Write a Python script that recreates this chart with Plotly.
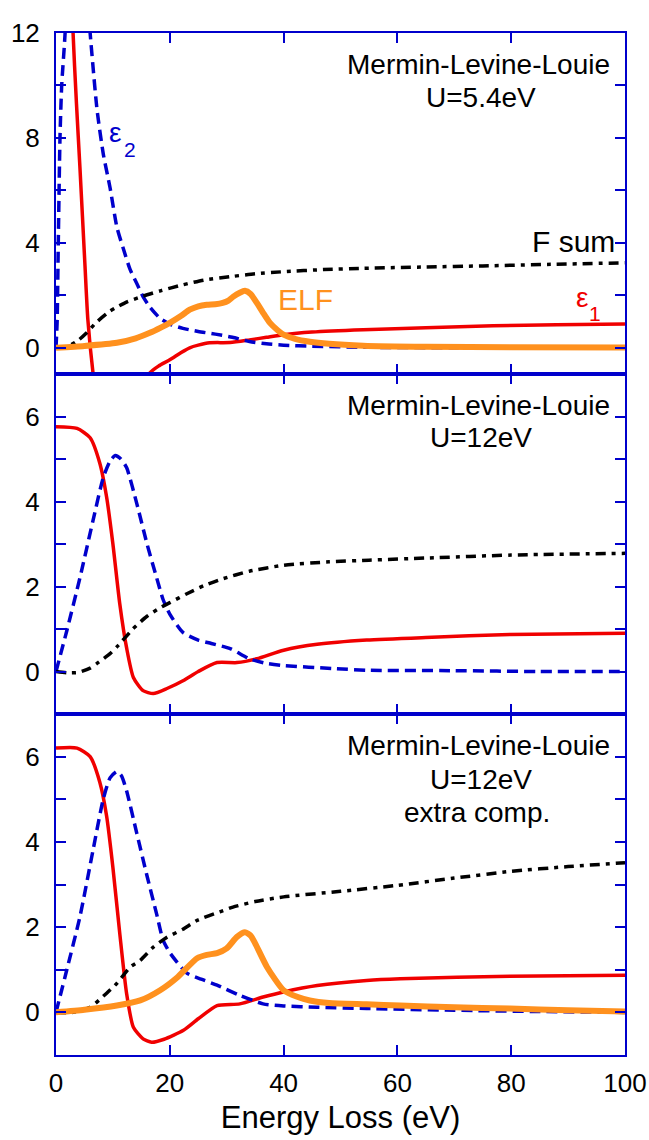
import plotly.graph_objects as go
from plotly.subplots import make_subplots

# ---------------- U = 5.4 eV ----------------
e_eps1_a = [0, 1, 2, 3, 3.6, 4.2, 5.1, 5.6, 6.5, 7.5, 9, 11, 13, 15, 16.5, 18, 20, 22, 23.5, 25, 27, 30.6, 34, 37, 40, 45, 54, 65, 76.8, 88, 100]
eps1_a = [40, 32, 20, 12, 9.3, 6.9, 3.1, 1.07, -0.95, -2.5, -3.4, -3.3, -2.5, -1.6, -0.96, -0.7, -0.46, -0.18, 0.0, 0.1, 0.19, 0.2, 0.3, 0.4, 0.5, 0.6, 0.69, 0.76, 0.84, 0.88, 0.91]

e_eps2_a = [0, 0.2, 0.4, 0.7, 1.0, 1.6, 2.5, 3.5, 4.5, 5.5, 6.0, 7.2, 8.3, 9.5, 10.7, 11.8, 13, 14.2, 15.3, 16.5, 18.3, 20, 22.3, 25, 28, 31, 34, 37, 40, 45, 54, 70, 100]
eps2_a = [0, 1, 4, 8, 10, 12, 18, 20, 17, 13.5, 12, 9.1, 7.4, 6.1, 4.6, 3.8, 3.0, 2.45, 1.95, 1.55, 1.12, 0.9, 0.74, 0.62, 0.52, 0.4, 0.24, 0.15, 0.1, 0.06, 0.02, 0.0, 0.0]

e_fsum_a = [0, 2, 4, 5.4, 7, 9.5, 10.7, 12.5, 15.3, 18.5, 22.3, 26, 31, 35, 40, 47, 54, 65, 75, 87, 100]
fsum_a = [0, 0.05, 0.3, 0.57, 0.95, 1.4, 1.55, 1.75, 1.97, 2.18, 2.4, 2.58, 2.72, 2.82, 2.9, 2.98, 3.03, 3.08, 3.12, 3.18, 3.24]

e_elf_a = [0, 5, 10.7, 14, 16.5, 18.5, 20, 22, 23.5, 25, 26.5, 28, 29.3, 30.3, 31.1, 32.3, 33.2, 34.2, 35.3, 36.5, 37.6, 39, 40, 42, 44.6, 48, 54, 65, 80, 100]
elf_a = [0, 0.07, 0.19, 0.36, 0.57, 0.78, 0.95, 1.22, 1.45, 1.58, 1.64, 1.66, 1.71, 1.8, 1.94, 2.1, 2.17, 2.05, 1.71, 1.3, 0.95, 0.66, 0.5, 0.34, 0.23, 0.15, 0.08, 0.04, 0.02, 0.01]

# ---------------- U = 12 eV ----------------
e_eps1_b = [0, 3.7, 6, 7.7, 8.9, 10, 11.2, 12.4, 13.6, 15.3, 17.1, 19.5, 22.4, 25, 28.3, 31.8, 35.3, 40, 45.9, 54.6, 65, 79.8, 100]
eps1_b = [5.76, 5.72, 5.5, 4.9, 4.1, 3.0, 1.6, 0.56, -0.14, -0.45, -0.52, -0.4, -0.21, 0.0, 0.21, 0.21, 0.3, 0.5, 0.64, 0.74, 0.8, 0.87, 0.9]

e_eps2_b = [0, 1.9, 4.2, 6.5, 8.3, 9.5, 10.4, 11.4, 12.4, 14.2, 16, 17.7, 18.8, 20, 22.3, 25, 27.3, 30.6, 34, 37, 40, 48.7, 54.6, 70, 85, 100]
eps2_b = [0, 0.96, 2.2, 3.55, 4.56, 4.95, 5.08, 5.0, 4.8, 3.95, 3.0, 2.2, 1.7, 1.35, 0.92, 0.74, 0.66, 0.54, 0.3, 0.19, 0.14, 0.07, 0.03, 0.02, 0.0, 0.0]

e_fsum_b = [0, 2, 4, 6, 7.2, 9.5, 11, 13.5, 16, 18.3, 20, 23, 26, 29, 34, 40, 48, 55, 65, 80, 100]
fsum_b = [0, -0.03, -0.02, 0.08, 0.19, 0.42, 0.62, 1.0, 1.3, 1.5, 1.62, 1.83, 2.02, 2.17, 2.36, 2.5, 2.58, 2.62, 2.67, 2.74, 2.78]

# ---------------- U = 12 eV, extra component ----------------
e_eps1_c = [0, 3.7, 6, 7.7, 8.9, 10, 11.2, 12.4, 13.6, 15.3, 16.8, 19, 22.4, 25, 28.3, 32.3, 36.4, 40, 45.9, 54.6, 60.5, 79.8, 100]
eps1_c = [6.2, 6.2, 6.0, 5.4, 4.6, 3.4, 1.86, 0.45, -0.35, -0.62, -0.7, -0.63, -0.42, -0.15, 0.16, 0.2, 0.36, 0.48, 0.63, 0.75, 0.79, 0.85, 0.87]

e_eps2_c = [0, 1.9, 4.2, 6.5, 8.3, 9.5, 10.7, 11.5, 12.4, 14.2, 16, 17.7, 18.8, 20, 23, 25.5, 28.3, 32.3, 36.4, 40, 45.9, 54.6, 70, 85, 100]
eps2_c = [0, 1.0, 2.24, 3.8, 5.0, 5.5, 5.65, 5.55, 5.2, 4.2, 3.2, 2.3, 1.7, 1.4, 0.92, 0.78, 0.64, 0.4, 0.2, 0.15, 0.12, 0.09, 0.05, 0.02, 0.0]

e_fsum_c = [0, 3, 6, 8.9, 10.7, 13, 14.8, 17.1, 19.5, 22.3, 24.8, 28.8, 31.1, 35, 40, 50, 60, 70, 80, 90, 100]
fsum_c = [0, 0, 0.12, 0.45, 0.68, 1.06, 1.22, 1.53, 1.76, 1.95, 2.16, 2.36, 2.47, 2.6, 2.71, 2.84, 2.98, 3.15, 3.31, 3.42, 3.51]

e_elf_c = [0, 5, 10.7, 14.8, 18.3, 21.3, 24.8, 26.5, 28.3, 30, 31.8, 33.2, 34.2, 35, 37.1, 40, 42.5, 44.6, 48, 54.6, 60.5, 70, 79.8, 90, 100]
elf_c = [0, 0.06, 0.16, 0.28, 0.52, 0.82, 1.27, 1.35, 1.39, 1.5, 1.77, 1.88, 1.8, 1.62, 1.06, 0.52, 0.36, 0.28, 0.22, 0.19, 0.16, 0.12, 0.09, 0.05, 0.02]

# axis ticks
x_ticks = [0, 20, 40, 60, 80, 100]
x_labels = ["0", "20", "40", "60", "80", "100"]
y1_ticks = [0, 2, 4, 6, 8, 10, 12]
y1_labels = ["0", "", "4", "", "8", "", "12"]
y23_ticks = [0, 1, 2, 3, 4, 5, 6]
y23_labels = ["0", "", "2", "", "4", "", "6"]

RED = "#f00000"
BLUE = "#0000cc"
BLACK = "#000000"
ORANGE = "#ff911e"
FONT = "Liberation Sans, Arial, sans-serif"

W, H = 649, 1140
L, R, T, B = 56, 24, 33, 85
plot_h = H - T - B
# panel borders in pixels (top edge of each panel and bottom of last)
edges = [33, 374, 714, 1055]


def py2paper(py):
    return (H - B - py) / plot_h


fig = make_subplots(rows=3, cols=1, shared_xaxes=True, vertical_spacing=0)

panels = [
    (e_eps1_a, eps1_a, e_eps2_a, eps2_a, e_fsum_a, fsum_a, e_elf_a, elf_a),
    (e_eps1_b, eps1_b, e_eps2_b, eps2_b, e_fsum_b, fsum_b, None, None),
    (e_eps1_c, eps1_c, e_eps2_c, eps2_c, e_fsum_c, fsum_c, e_elf_c, elf_c),
]

for i, (xe1, ye1, xe2, ye2, xf, yf, xl, yl) in enumerate(panels, start=1):
    fig.add_trace(go.Scatter(x=xe1, y=ye1, mode="lines", line=dict(color=RED, width=3.5, shape="spline", smoothing=0.6),
                             showlegend=False), row=i, col=1)
    fig.add_trace(go.Scatter(x=xe2, y=ye2, mode="lines", line=dict(color=BLUE, width=3.5, dash="11px,6px", shape="spline", smoothing=0.6),
                             showlegend=False), row=i, col=1)
    fig.add_trace(go.Scatter(x=xf, y=yf, mode="lines", line=dict(color=BLACK, width=3.5, dash="10px,6px,4px,6px", shape="spline", smoothing=0.6),
                             showlegend=False), row=i, col=1)
    if xl is not None:
        fig.add_trace(go.Scatter(x=xl, y=yl, mode="lines", line=dict(color=ORANGE, width=6, shape="spline", smoothing=0.6),
                                 showlegend=False), row=i, col=1)

axis_common = dict(showline=True, linecolor=BLUE, linewidth=2, mirror="ticks", ticks="inside",
                   ticklen=10, tickwidth=2, tickcolor=BLUE, showgrid=False, zeroline=False, automargin=False,
                   tickfont=dict(family=FONT, size=26, color="black"))

for i in range(1, 4):
    top, bot = edges[i - 1], edges[i]
    dom = [py2paper(bot), py2paper(top)]
    fig.update_yaxes(domain=dom, row=i, col=1, **axis_common)
    fig.update_xaxes(row=i, col=1, range=[0, 100], tickvals=x_ticks, ticktext=x_labels, **axis_common)

fig.update_yaxes(range=[-1, 12], tickvals=y1_ticks, ticktext=y1_labels, ticklabelstandoff=9, row=1, col=1)
fig.update_yaxes(range=[-1, 7], tickvals=y23_ticks, ticktext=y23_labels, ticklabelstandoff=9, row=2, col=1)
fig.update_yaxes(range=[-1, 7], tickvals=y23_ticks, ticktext=y23_labels, ticklabelstandoff=9, row=3, col=1)
fig.update_xaxes(showticklabels=True, ticklabelstandoff=4,
                 title=dict(text="Energy Loss (eV)", font=dict(family=FONT, size=31, color="black"), standoff=9),
                 row=3, col=1)

annotations = []


def text_px(txt, px, py, size, color="black", xanchor="center"):
    annotations.append(dict(text=txt, x=(px - L) / (W - L - R), y=py2paper(py), xref="paper", yref="paper",
                            xanchor=xanchor, yanchor="middle", showarrow=False,
                            font=dict(family=FONT, size=size, color=color)))


# model descriptions
text_px("Mermin-Levine-Louie", 478, 64, 28)
text_px("U=5.4eV", 481, 97, 28)
text_px("Mermin-Levine-Louie", 478, 405, 28)
text_px("U=12eV", 481, 438, 28)
text_px("Mermin-Levine-Louie", 478, 746, 28)
text_px("U=12eV", 481, 779, 28)
text_px("extra comp.", 477, 812, 28)

# curve labels
text_px("ε", 115, 132, 28, BLUE)
text_px("2", 130, 149, 21, BLUE)
text_px("F sum", 617, 241, 30, BLACK, xanchor="right")
text_px("ELF", 305, 299, 30, ORANGE)
text_px("ε", 582, 298, 28, RED)
text_px("1", 595, 313, 21, RED)

fig.update_layout(width=W, height=H, margin=dict(l=L, r=R, t=T, b=B, autoexpand=False),
                  plot_bgcolor="white", paper_bgcolor="white",
                  annotations=annotations, font=dict(family=FONT))

fig.write_html("out.html")
